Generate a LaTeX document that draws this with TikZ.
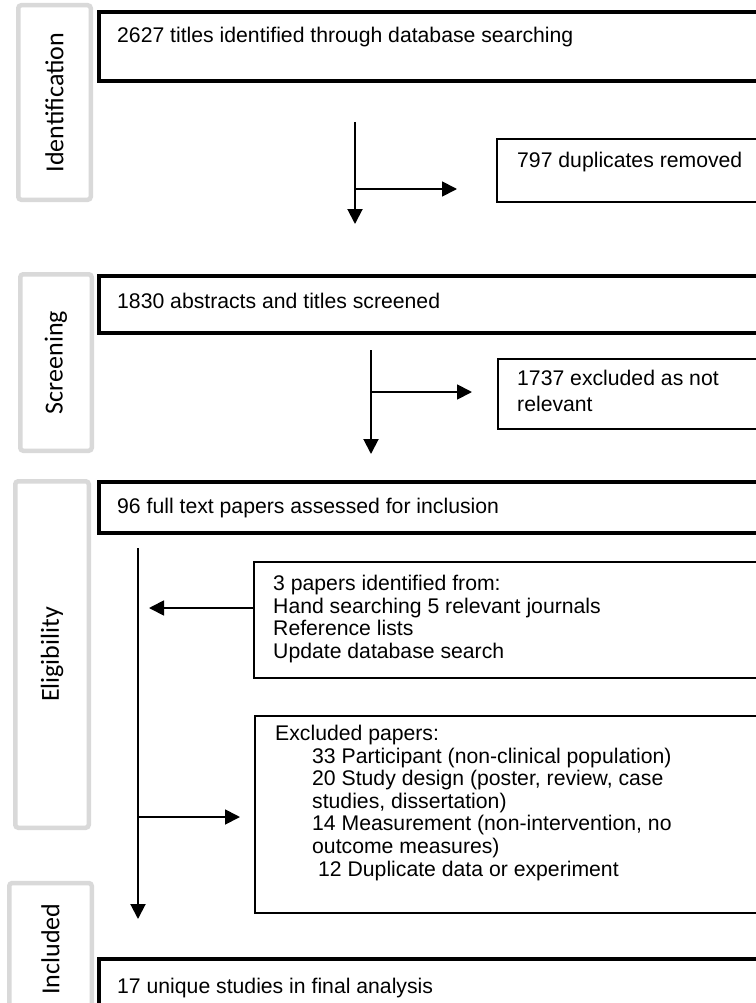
\documentclass[tikz,border=0pt]{standalone}
\usepackage{fontspec}
\setmainfont{Liberation Sans}
\newfontfamily\phasefont{Carlito}
\usetikzlibrary{positioning,arrows.meta}
\definecolor{phasegray}{RGB}{217,217,217}
\tikzset{%
  mainbox/.style = {
    draw,
    line width = 4.2pt,
    anchor = north west,
    inner sep = 0pt,
  },
  sidebox/.style = {
    draw,
    line width = 1.6pt,
    anchor = north west,
    inner sep = 0pt,
  },
  phase/.style = {
    draw = phasegray,
    fill = white,
    line width = 4.5pt,
    rounded corners = 3pt,
    rotate = 90,
    inner sep = 0pt,
    font = \phasefont\fontsize{26}{30}\selectfont,
  },
  boxtext/.style = {
    anchor = north west,
    inner sep = 0pt,
    align = left,
    font = \fontsize{21.2}{22.6}\selectfont,
  },
  arrow/.style = {
    -{Triangle[length=15pt,width=15pt]},
    line width = #1,
  },
  arrow/.default = {2pt},
}

\begin{document}
\begin{tikzpicture}[x=1pt, y=-1pt]
  \useasboundingbox (0,0) rectangle (755,1003);

  % phase labels
  \node[phase, minimum width=194.5pt, minimum height=72.5pt] (ident) at (54.5,102.5) {Identification};
  \node[phase, minimum width=176.5pt, minimum height=71.5pt] (screen) at (56,362.5) {Screening};
  \node[phase, minimum width=346.5pt, minimum height=73.5pt] (elig) at (52,654.5) {Eligibility};
  \node[phase, minimum width=132pt, minimum height=82.5pt] (incl) at (50.5,949) {Included};

  % main boxes
  \node[mainbox, minimum width=680pt, minimum height=69pt] (found) at (97,10) {};
  \node[boxtext, below right=17pt and 20pt of found.north west] (foundtxt)
    {2627 titles identified through database searching};
  \node[mainbox, minimum width=680pt, minimum height=57pt] (screened) at (97,274) {};
  \node[boxtext, below right=19pt and 20pt of screened.north west] (screenedtxt)
    {1830 abstracts and titles screened};
  \node[mainbox, minimum width=680pt, minimum height=51pt] (full) at (97,480) {};
  \node[boxtext, below right=18pt and 20pt of full.north west] (fulltxt)
    {96 full text papers assessed for inclusion};
  \node[mainbox, minimum width=680pt, minimum height=80pt] (final) at (97,957) {};
  \node[boxtext, below right=21pt and 20pt of final.north west] (finaltxt)
    {17 unique studies in final analysis};

  % side boxes
  \node[sidebox, minimum width=280pt, minimum height=63pt] (dup) at (496,138) {};
  \node[boxtext, below right=14pt and 21pt of dup.north west] (duptxt)
    {797 duplicates removed};
  \node[sidebox, minimum width=280pt, minimum height=70pt] (notrel) at (497,358) {};
  \node[boxtext, font=\fontsize{21.2}{25.5}\selectfont,
        below right=12pt and 20pt of notrel.north west] (notreltxt)
    {1737 excluded as not\\relevant};
  \node[sidebox, minimum width=520pt, minimum height=116pt] (extra) at (253,561) {};
  \node[boxtext, below right=14pt and 20pt of extra.north west] (extratxt)
    {3 papers identified from:\\
     Hand searching 5 relevant journals\\
     Reference lists\\
     Update database search};
  \node[sidebox, minimum width=520pt, minimum height=197pt] (excl) at (254,715) {};
  \node[boxtext, below right=10pt and 21pt of excl.north west] (excltxt)
    {Excluded papers:\\
     \hspace*{37pt}33 Participant (non-clinical population)\\
     \hspace*{37pt}20 Study design (poster, review, case\\
     \hspace*{37pt}studies, dissertation)\\
     \hspace*{37pt}14 Measurement (non-intervention, no\\
     \hspace*{37pt}outcome measures)\\
     \hspace*{43pt}12 Duplicate data or experiment};

  % identification arrows
  \coordinate (idtop) at (355,122);
  \coordinate (idjoin) at (355,189);
  \coordinate (idend) at (355,224);
  \draw[arrow] (idtop) -- (idend);
  \draw[arrow=1.8pt, shorten >=39pt] (idjoin) -- (idjoin -| dup.west);

  % screening arrows
  \coordinate (sctop) at (371,350);
  \coordinate (scjoin) at (371,392);
  \coordinate (scend) at (371,454);
  \draw[arrow] (sctop) -- (scend);
  \draw[arrow=1.8pt, shorten >=25pt] (scjoin) -- (scjoin -| notrel.west);

  % eligibility arrows
  \coordinate (eltop) at (138,548);
  \coordinate (elin) at (138,608);
  \coordinate (eljoin) at (138,817);
  \coordinate (elend) at (138,919);
  \draw[arrow] (eltop) -- (elend);
  \draw[arrow=1.8pt, shorten >=11pt] (extra.west |- elin) -- (elin);
  \draw[arrow=1.8pt, shorten >=14pt] (eljoin) -- (eljoin -| excl.west);
\end{tikzpicture}
\end{document}
